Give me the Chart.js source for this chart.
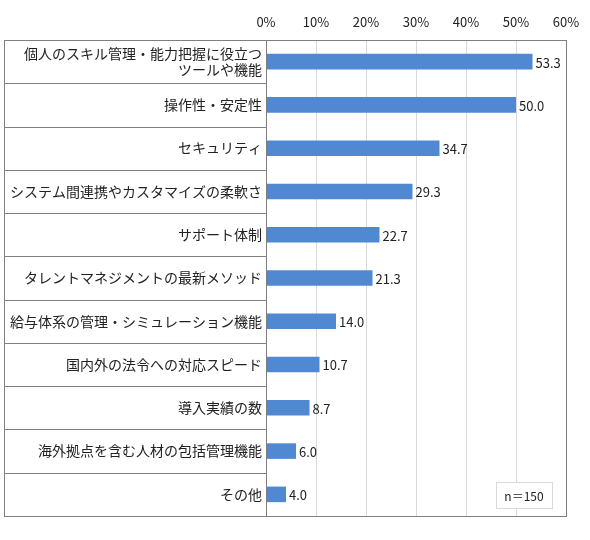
<!DOCTYPE html>
<html lang="ja">
<head>
  <meta charset="UTF-8" />
  <title>重視する機能</title>
  <script src="https://cdn.jsdelivr.net/npm/chart.js"></script>
  <style>
    html, body { margin: 0; padding: 0; background: #fff; }
    #wrap { width: 590px; height: 540px; }
  </style>
</head>
<body>
  <div id="wrap"><canvas id="chart"></canvas></div>

  <script>
    const categories = [
      ['個人のスキル管理・能力把握に役立つ', 'ツールや機能'],
      '操作性・安定性',
      'セキュリティ',
      'システム間連携やカスタマイズの柔軟さ',
      'サポート体制',
      'タレントマネジメントの最新メソッド',
      '給与体系の管理・シミュレーション機能',
      '国内外の法令への対応スピード',
      '導入実績の数',
      '海外拠点を含む人材の包括管理機能',
      'その他'
    ];
    const values = [53.3, 50.0, 34.7, 29.3, 22.7, 21.3, 14.0, 10.7, 8.7, 6.0, 4.0];
    const sampleNote = 'n＝150';

    const FONT = '"Noto Sans CJK JP", "Noto Sans", sans-serif';
    const frameColor = '#7f7f7f';

    // outer frame, row separators in the label column, value labels and n box
    const decorPlugin = {
      id: 'decor',
      afterDatasetsDraw(chart) {
        const { ctx, chartArea } = chart;
        const yScale = chart.scales.y;
        const left = yScale.left;
        ctx.save();

        // value labels
        ctx.font = '13px ' + FONT;
        ctx.fillStyle = '#222';
        ctx.textAlign = 'left';
        ctx.textBaseline = 'middle';
        chart.getDatasetMeta(0).data.forEach((bar, i) => {
          ctx.fillText(values[i].toFixed(1), bar.x + 3, bar.y + 1);
        });

        // row separators
        ctx.strokeStyle = frameColor;
        ctx.lineWidth = 1;
        ctx.beginPath();
        for (let i = 1; i < categories.length; i++) {
          const y = Math.round((yScale.getPixelForValue(i - 1) + yScale.getPixelForValue(i)) / 2) + 0.5;
          ctx.moveTo(left, y);
          ctx.lineTo(chartArea.left, y);
        }
        ctx.stroke();

        // plot left edge and outer frame
        ctx.beginPath();
        ctx.moveTo(Math.round(chartArea.left) + 0.5, chartArea.top);
        ctx.lineTo(Math.round(chartArea.left) + 0.5, chartArea.bottom);
        ctx.stroke();
        ctx.strokeRect(Math.round(left) + 0.5, Math.round(chartArea.top) + 0.5,
          Math.round(chartArea.right - left), Math.round(chartArea.bottom - chartArea.top));

        // n box
        const bw = 56, bh = 26;
        const bx = chartArea.right - 14 - bw;
        const by = chartArea.bottom - 8 - bh;
        ctx.fillStyle = '#fff';
        ctx.fillRect(bx, by, bw, bh);
        ctx.strokeStyle = '#d9d9d9';
        ctx.strokeRect(bx + 0.5, by + 0.5, bw, bh);
        ctx.fillStyle = '#222';
        ctx.textAlign = 'center';
        ctx.font = '12px ' + FONT;
        ctx.fillText(sampleNote, bx + bw / 2, by + bh / 2 + 1);

        ctx.restore();
      }
    };

    new Chart(document.getElementById('chart'), {
      type: 'bar',
      data: {
        labels: categories,
        datasets: [{
          data: values,
          backgroundColor: '#5089d2',
          categoryPercentage: 1,
          barPercentage: 0.36
        }]
      },
      options: {
        indexAxis: 'y',
        responsive: true,
        maintainAspectRatio: false,
        animation: false,
        layout: { padding: { left: 4, right: 24, top: 0, bottom: 24 } },
        plugins: {
          legend: { display: false },
          tooltip: { enabled: false }
        },
        scales: {
          x: {
            position: 'top',
            min: 0,
            max: 60,
            ticks: {
              stepSize: 10,
              padding: 10,
              color: '#222',
              font: { family: FONT, size: 13 },
              callback: v => v + '%'
            },
            grid: {
              color: '#d9d9d9',
              drawTicks: false
            },
            border: { display: false },
            afterFit(scale) { scale.height = 40; }
          },
          y: {
            ticks: {
              padding: 4,
              color: '#222',
              font: { family: FONT, size: 14, lineHeight: 1.2 },
              autoSkip: false
            },
            grid: { display: false, drawTicks: false },
            border: { display: false },
            afterFit(scale) { scale.width = 262; }
          }
        }
      },
      plugins: [decorPlugin]
    });
  </script>
</body>
</html>
